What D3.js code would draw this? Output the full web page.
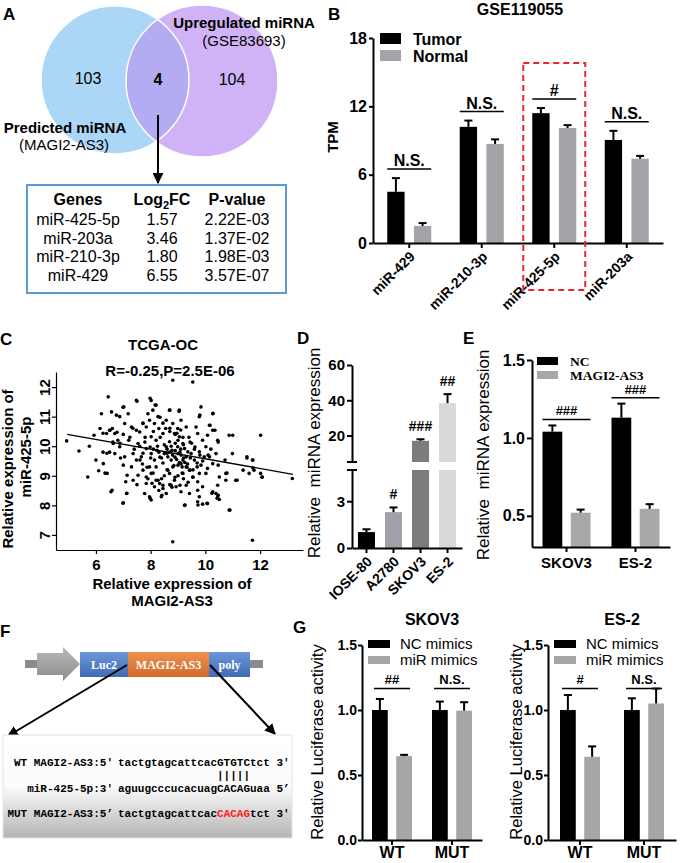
<!DOCTYPE html>
<html>
<head>
<meta charset="utf-8">
<script src="https://cdn.jsdelivr.net/npm/d3@7"></script>
<style>
  body { margin: 0; background: #fff; }
</style>
</head>
<body>
<div id="fig"></div>
<script>
// ---------- data ----------
// A: venn + table
const vennCounts = [103, 4, 104];
const vennSets = ["Predicted miRNA", "Upregulated miRNA"];
const vennSources = ["(MAGI2-AS3)", "(GSE83693)"];
const tableGenes = ["miR-425-5p", "miR-203a", "miR-210-3p", "miR-429"];
const tableLog2FC = ["1.57", "3.46", "1.80", "6.55"];
const tablePValue = ["2.22E-03", "1.37E-02", "1.98E-03", "3.57E-07"];

// B: GSE119055 TPM
const bMirnas = ["miR-429", "miR-210-3p", "miR-425-5p", "miR-203a"];
const bSeries = ["Tumor", "Normal"];
const bTumor = [4.5, 10.2, 11.4, 9.05];
const bTumorErr = [1.2, 0.55, 0.45, 0.8];
const bNormal = [1.5, 8.7, 10.1, 7.4];
const bNormalErr = [0.25, 0.4, 0.25, 0.25];
const bSig = ["N.S.", "N.S.", "#", "N.S."];
const bTicks = [0, 6, 12, 18];

// C: TCGA-OC scatter (MAGI2-AS3, miR-425-5p)
const cPoints = [
  [4.93,10.18],[5.38,9.84],[5.76,10.0],[5.70,8.96],[6.0,9.53],[6.1,9.17],[6.27,9.41],[6.41,9.08],[6.55,8.46],
  [6.45,11.67],[6.2,11.1],[6.15,10.6],[5.93,10.37],[6.39,10.43],[6.5,10.54],[6.69,10.43],[6.57,11.16],[6.75,11.05],
  [6.87,11.0],[7.02,11.33],[7.18,11.1],[7.05,10.77],[6.63,10.09],[6.5,9.8],[6.69,9.75],[6.87,9.98],[7.0,9.36],
  [7.05,9.64],[7.14,9.02],[7.09,8.8],[7.12,8.4],[7.0,8.09],[7.36,8.85],[7.48,11.55],[7.48,10.54],[7.3,10.65],
  [7.6,10.48],[7.54,10.09],[7.36,9.75],[7.66,9.64],[7.48,9.53],[7.72,9.19],[7.54,9.02],[7.84,8.74],[7.78,8.4],
  [7.9,11.1],[8.02,11.55],[8.2,11.39],[8.08,11.22],[7.72,10.77],[7.84,10.65],[7.96,10.88],[8.14,10.77],[8.27,11.0],
  [8.3,10.6],[8.45,10.43],[8.02,10.32],[8.2,10.2],[7.84,9.92],[8.02,9.75],[8.14,9.53],[7.96,9.3],[7.84,8.96],
  [8.02,9.08],[8.2,8.85],[8.14,8.63],[7.96,8.29],[8.02,8.18],[8.33,8.74],[8.45,8.57],[8.39,8.29],[8.57,8.4],
  [8.5,9.75],[8.57,9.98],[8.69,10.15],[8.63,9.64],[8.75,9.53],[8.81,9.3],[8.69,9.08],[8.87,8.85],[8.75,8.68],
  [8.93,8.63],[8.81,6.77],[8.81,12.23],[9.54,12.17],[8.69,11.22],[9.05,11.22],[8.57,10.88],[8.81,10.77],[8.99,10.6],
  [9.11,10.88],[9.3,10.65],[8.87,10.43],[9.05,10.32],[9.18,10.09],[8.99,9.98],[9.24,9.92],[9.36,9.81],[9.11,9.7],
  [9.3,9.64],[9.48,9.75],[9.6,9.53],[9.11,9.41],[9.3,9.3],[9.42,9.19],[9.18,9.08],[9.54,8.96],[9.3,8.68],
  [9.11,8.46],[9.42,8.4],[9.24,8.0],[9.66,10.65],[9.78,11.0],[9.72,10.43],[9.9,10.2],[10.02,9.98],[9.78,9.81],
  [9.96,9.64],[9.84,9.36],[10.08,9.25],[9.78,9.08],[10.02,9.08],[9.72,8.8],[9.9,8.63],[9.72,8.51],[9.78,8.29],
  [9.72,8.12],[9.9,8.04],[10.08,8.06],[9.84,11.33],[10.27,11.1],[10.15,10.71],[10.27,10.54],[10.08,10.37],[10.45,10.2],
  [10.39,9.75],[10.15,9.64],[10.27,9.41],[10.51,8.96],[10.45,8.68],[10.27,8.46],[10.39,8.4],[10.45,8.29],[10.51,8.2],
  [10.87,10.37],[10.99,9.75],[10.75,9.08],[10.75,8.85],[10.87,7.84],[11.11,8.85],[11.52,9.64],[11.72,9.53],[11.6,9.08],
  [11.78,9.19],[12.02,10.37],[12.02,9.08],[12.08,8.96],[11.72,6.82],[13.18,8.91],
  [8.6,9.9],[8.7,9.8],[8.8,9.7],[8.9,9.85],[9.0,9.75],[9.1,9.9],[9.2,9.6],[8.95,9.55],[9.05,9.45],[8.85,9.35],
  [9.15,9.3],[9.25,9.45],[8.75,10.0],[8.9,10.1],[9.0,10.2],[9.2,10.05],[8.5,10.05],[8.4,9.6],[8.3,9.8],[8.25,10.0],
  [8.35,10.3],[8.1,10.5],[8.55,10.6],[8.7,10.5],[8.9,10.4],[9.1,10.55],[9.4,10.3],[9.5,10.1],[9.6,9.9],[9.45,9.6],
  [9.35,9.4],[9.55,9.2],[8.6,9.2],[8.5,9.0],[8.4,8.9],[8.7,8.7],[9.0,9.0],[9.2,8.9],[9.7,9.3],[9.9,9.5],
  [10.1,9.7],[10.2,9.9],[7.8,10.3],[7.6,10.0],[7.4,9.9],[7.2,10.2],[7.0,10.4],[6.8,10.2],[6.6,10.6],[6.9,9.6],
  [7.3,9.3],[7.7,9.4],[8.0,9.6],[8.1,9.9],[8.2,9.3],[7.5,8.7],[7.9,8.9],[8.3,8.5],
  [6.99,11.32],[7.5,11.52],[7.98,11.62],[8.16,11.39],[8.7,11.22],[9.04,11.18],[9.8,11.05],[10.28,11.11],[10.17,10.71],
  [10.35,10.54],[10.47,10.14],[11.0,10.37],[11.52,9.6],[11.74,9.53],[11.38,9.19],[11.74,9.26],[12.07,8.95],[11.16,8.85],
  [10.79,9.09],[10.72,9.53],[10.47,9.36],[10.9,7.84],[6.26,10.44],[6.26,9.8],[6.4,9.76],[6.33,9.09],[6.59,8.51],
  [6.99,8.07],[7.13,8.41],[7.98,8.24],[8.05,8.75],[8.41,8.34],[9.26,8.01],[9.73,8.01],[10.06,8.07],[10.24,8.41],
  [10.43,8.24],[10.47,8.34],[8.6,9.76],[8.78,9.86],[8.89,9.63],[9.07,9.8],[9.18,9.53],[9.0,9.36],[9.33,9.29],
  [9.44,9.19],[9.15,9.09],[8.89,8.95],[8.63,9.19],[8.45,9.43],[8.34,9.63],[8.23,9.86],[7.98,9.97],[7.79,10.14],
  [7.72,9.76],[7.61,9.53],[7.87,9.29],[8.09,9.09],[8.27,8.85],[8.45,8.68],[8.78,8.61],[9.07,8.68],[9.37,8.78],
  [9.55,8.95],[9.7,9.43],[9.8,9.7],[9.62,9.97],[9.44,10.14],[9.18,10.3],[8.96,10.44],[8.7,10.61],[8.45,10.78],
  [8.34,10.98],[7.72,10.78],[7.35,10.61],[7.24,10.3],[6.88,10.1],[6.62,10.14],[6.77,10.47],[6.51,10.54]
];
const cFit = [[4.95, 10.4], [13.2, 9.05]];
const cXTicks = [6, 8, 10, 12];
const cYTicks = [7, 8, 9, 10, 11, 12];

// D: cell lines
const dCells = ["IOSE-80", "A2780", "SKOV3", "ES-2"];
const dValues = [1.02, 2.3, 17.0, 38.4];
const dErr = [0.18, 0.3, 0.9, 5.1];
const dSig = ["", "#", "###", "##"];
const dLowTicks = [0, 3];
const dHighTicks = [20, 40, 60];

// E: NC vs MAGI2-AS3
const eCells = ["SKOV3", "ES-2"];
const eSeries = ["NC", "MAGI2-AS3"];
const eNC = [1.04, 1.13];
const eNCErr = [0.04, 0.09];
const eMAGI = [0.52, 0.545];
const eMAGIErr = [0.02, 0.03];
const eSig = ["###", "###"];
const eTicks = [0.5, 1.0, 1.5];

// F: construct + sequences
const fConstruct = ["Luc2", "MAGI2-AS3", "poly"];
const fSeqPrefix = ["WT MAGI2-AS3:5'", "miR-425-5p:3'", "MUT MAGI2-AS3:5\u2019"];
const fSeqBody = ["tactgtagcattcacGTGTCtct 3'", "aguugcccucacuagCACAGuaa 5\u2019", "tactgtagcattcacCACAGtct 3'"];
const fSeedMatch = "               |||||";

// G: luciferase
const gGroups = ["WT", "MUT"];
const gSeries = ["NC mimics", "miR mimics"];
const gSkovNC = [1.0, 1.0];
const gSkovNCErr = [0.085, 0.065];
const gSkovMiR = [0.645, 0.995];
const gSkovMiRErr = [0.01, 0.065];
const gSkovSig = ["##", "N.S."];
const gEsNC = [1.0, 1.0];
const gEsNCErr = [0.115, 0.09];
const gEsMiR = [0.64, 1.05];
const gEsMiRErr = [0.08, 0.115];
const gEsSig = ["#", "N.S."];
const gTicks = [0, 0.5, 1.0, 1.5];

// ---------- setup ----------
const W = 685, H = 863;
const sans = "Arial, 'Liberation Sans', sans-serif";
const serif = "'Times New Roman', 'Liberation Serif', serif";
const mono = "'Courier New', 'Liberation Mono', monospace";

const svg = d3.select("#fig").append("svg")
  .attr("width", W).attr("height", H)
  .style("font-family", sans);
svg.append("rect").attr("width", W).attr("height", H).attr("fill", "#fff");
const defs = svg.append("defs");

defs.append("marker").attr("id", "arrow")
  .attr("viewBox", "0 0 10 10").attr("refX", 9).attr("refY", 5)
  .attr("markerUnits", "userSpaceOnUse")
  .attr("markerWidth", 11).attr("markerHeight", 11)
  .attr("orient", "auto")
  .append("path").attr("d", "M0,0L10,5L0,10z").attr("fill", "#000");

function text(g, x, y, str, size, weight, anchor) {
  return g.append("text").attr("x", x).attr("y", y)
    .attr("text-anchor", anchor || "middle")
    .style("font-size", size + "px")
    .style("font-weight", weight || "normal")
    .text(str);
}

function rotText(g, x, y, str, size, weight) {
  return g.append("text")
    .attr("transform", `translate(${x},${y}) rotate(-90)`)
    .attr("text-anchor", "middle")
    .style("font-size", size + "px")
    .style("font-weight", weight || "normal")
    .style("white-space", "pre")
    .text(str);
}

function styleAxis(sel, size, sw) {
  sel.select(".domain").attr("stroke", "#000").attr("stroke-width", sw || 2);
  sel.selectAll(".tick line").attr("stroke", "#000").attr("stroke-width", sw || 2);
  sel.selectAll(".tick text").attr("fill", "#000")
    .style("font-size", size + "px").style("font-weight", "bold").style("font-family", sans);
}

function errBars(g, rows, cx, y) {
  const eb = g.selectAll(null).data(rows).join("g")
    .attr("transform", d => `translate(${cx(d)},0)`);
  eb.append("line").attr("y1", d => y(d.v)).attr("y2", d => y(d.v + d.e))
    .attr("stroke", "#000").attr("stroke-width", 2);
  eb.append("line").attr("x1", -4).attr("x2", 4)
    .attr("y1", d => y(d.v + d.e)).attr("y2", d => y(d.v + d.e))
    .attr("stroke", "#000").attr("stroke-width", 2);
}

function groupedBars(g, cats, series, vals, errs, x, sub, y, colors) {
  const rows = cats.flatMap((c, i) => series.map((s, j) => ({ c, s, j, v: vals[j][i], e: errs[j][i] })));
  const left = d => x(d.c) + x.bandwidth() / 2 + sub(d.s);
  g.selectAll(null).data(rows).join("rect")
    .attr("x", left)
    .attr("y", d => y(d.v))
    .attr("width", sub.bandwidth())
    .attr("height", d => y.range()[0] - y(d.v))
    .attr("fill", d => colors[d.j]);
  errBars(g, rows, d => left(d) + sub.bandwidth() / 2, y);
  return rows;
}

function bracket(g, cx, half, yLine, label, size, gap) {
  g.append("line").attr("x1", cx - half).attr("x2", cx + half)
    .attr("y1", yLine).attr("y2", yLine).attr("stroke", "#000").attr("stroke-width", 1.5);
  text(g, cx, yLine - (gap || 3), label, size, "bold");
}

function legend(g, series, colors, x0, y0, dy, sw, sh, tx, size, family, weight) {
  series.forEach((s, i) => {
    g.append("rect").attr("x", x0).attr("y", y0 + i * dy).attr("width", sw).attr("height", sh).attr("fill", colors[i]);
    text(g, tx, y0 + i * dy + sh + 1, s, size, weight, "start").style("font-family", family);
  });
}

// panel letters
[["A", 3, 20], ["B", 328, 20], ["C", 0, 345], ["D", 297, 344], ["E", 463, 344], ["F", 0, 637], ["G", 293, 633]]
  .forEach(([l, x, y]) => text(svg, x, y, l, 17, "bold", "start"));

// ---------- A ----------
const gA = svg.append("g");
const vL = { x: 115, y: 80, r: 74 }, vR = { x: 202, y: 81, r: 76 };
defs.append("clipPath").attr("id", "clipL").append("circle").attr("cx", vL.x).attr("cy", vL.y).attr("r", vL.r);
gA.append("circle").attr("cx", vL.x).attr("cy", vL.y).attr("r", vL.r).attr("fill", "#abd6f6");
gA.append("circle").attr("cx", vR.x).attr("cy", vR.y).attr("r", vR.r).attr("fill", "#d0b3f6");
gA.append("circle").attr("cx", vR.x).attr("cy", vR.y).attr("r", vR.r).attr("fill", "#b3acf3").attr("clip-path", "url(#clipL)");
[vL, vR].forEach(c => gA.append("circle").attr("cx", c.x).attr("cy", c.y).attr("r", c.r)
  .attr("fill", "none").attr("stroke", "#fff").attr("stroke-width", 1.5));
text(gA, 88, 84, vennCounts[0], 16);
text(gA, 158, 85, vennCounts[1], 16, "bold");
text(gA, 232, 85, vennCounts[2], 16);
text(gA, 244, 28, vennSets[1], 15, "bold");
text(gA, 244, 46, vennSources[1], 15);
text(gA, 65, 133, vennSets[0], 15, "bold");
text(gA, 64, 150, vennSources[0], 15);
gA.append("line").attr("x1", 158).attr("y1", 115).attr("x2", 158).attr("y2", 183)
  .attr("stroke", "#000").attr("stroke-width", 2).attr("marker-end", "url(#arrow)");

gA.append("rect").attr("x", 27).attr("y", 185).attr("width", 259).attr("height", 108)
  .attr("fill", "#fff").attr("stroke", "#5b9bd5").attr("stroke-width", 2);
const colX = [78, 162, 237];
text(gA, colX[0], 205, "Genes", 16, "bold");
const lf = text(gA, colX[1], 205, "Log", 16, "bold");
lf.append("tspan").attr("dy", 4).style("font-size", "11px").text("2");
lf.append("tspan").attr("dy", -4).text("FC");
text(gA, colX[2], 205, "P-value", 16, "bold");
tableGenes.forEach((gname, i) => {
  const y = 225 + i * 18.7;
  text(gA, colX[0], y, gname, 16);
  text(gA, colX[1], y, tableLog2FC[i], 16);
  text(gA, colX[2], y, tablePValue[i], 16);
});

// ---------- B ----------
const gB = svg.append("g");
const yB = d3.scaleLinear().domain([0, 18]).range([243, 38]);
const xB = d3.scaleBand().domain(bMirnas).range([373, 663]);
const sB = d3.scaleBand().domain(bSeries).range([-22, 22]).paddingInner(0.35);
const bColors = ["#000", "#a3a3a8"];
groupedBars(gB, bMirnas, bSeries, [bTumor, bNormal], [bTumorErr, bNormalErr], xB, sB, yB, bColors);

const axBy = gB.append("g").attr("transform", "translate(373,0)")
  .call(d3.axisLeft(yB).tickValues(bTicks).tickFormat(d3.format("d")).tickSize(4).tickPadding(2).tickSizeOuter(0));
styleAxis(axBy, 16);
const axBx = gB.append("g").attr("transform", "translate(0,243)")
  .call(d3.axisBottom(xB).tickSize(5).tickSizeOuter(0));
styleAxis(axBx, 14);
axBx.selectAll(".tick text").attr("x", 0).attr("y", 0).attr("dy", "0.35em")
  .attr("text-anchor", "end").attr("transform", "translate(3,11) rotate(-45)");

bMirnas.forEach((m, i) => {
  const cx = xB(m) + xB.bandwidth() / 2;
  const top = Math.min(yB(bTumor[i] + bTumorErr[i]), yB(bNormal[i] + bNormalErr[i]));
  bracket(gB, cx, 22, top - 9, bSig[i], 16, 3);
});
legend(gB, bSeries, bColors, 380, 33, 17, 21, 11, 413, 16, sans, "bold");
text(gB, 520, 15, "GSE119055", 16, "bold");
rotText(gB, 338, 137, "TPM", 15, "bold");
const hl = xB("miR-425-5p") + xB.bandwidth() / 2;
gB.append("rect").attr("x", hl - 31).attr("y", 63).attr("width", 62).attr("height", 227)
  .attr("fill", "none").attr("stroke", "#e8262b").attr("stroke-width", 2).attr("stroke-dasharray", "6,4");

// ---------- C ----------
const gC = svg.append("g");
const xC = d3.scaleLinear().domain([4.54, 13.57]).range([56, 303]);
const yC = d3.scaleLinear().domain([6.49, 12.51]).range([550, 372]);
gC.selectAll(null).data(cPoints).join("circle")
  .attr("cx", d => xC(d[0])).attr("cy", d => yC(d[1])).attr("r", 1.8).attr("fill", "#000");
gC.append("path").datum(cFit)
  .attr("d", d3.line().x(d => xC(d[0])).y(d => yC(d[1])))
  .attr("stroke", "#000").attr("stroke-width", 1.3).attr("fill", "none");
const axCx = gC.append("g").attr("transform", "translate(0,550)")
  .call(d3.axisBottom(xC).tickValues(cXTicks).tickFormat(d3.format("d")).tickSize(4).tickSizeOuter(0));
styleAxis(axCx, 15, 1.2);
axCx.selectAll(".tick text").attr("y", 9).attr("dy", "0.71em");
const axCy = gC.append("g").attr("transform", "translate(56,0)")
  .call(d3.axisLeft(yC).tickValues(cYTicks).tickFormat(d3.format("d")).tickSize(4).tickSizeOuter(0));
styleAxis(axCy, 15, 1.2);
axCy.selectAll(".tick text").attr("x", 0).attr("dy", 0).attr("text-anchor", "middle")
  .attr("transform", "translate(-6,0) rotate(-90)");
text(gC, 163, 350, "TCGA-OC", 15, "bold");
text(gC, 170, 376, "R=-0.25,P=2.5E-06", 15, "bold");
rotText(gC, 13, 469, "Relative expression of", 15, "bold");
rotText(gC, 31, 457, "miR-425-5p", 15, "bold");
text(gC, 172, 589, "Relative expression of", 15, "bold");
text(gC, 172, 606, "MAGI2-AS3", 15, "bold");

// ---------- D ----------
const gD = svg.append("g");
const yDlow = d3.scaleLinear().domain([0, 5]).range([548, 470]);
const yDup = d3.scaleLinear().domain([5, 60]).range([462, 365]);
const xD = d3.scaleBand().domain(dCells).range([352, 462]).paddingInner(0.37).paddingOuter(0.22);
const dColors = ["#000", "#a0a0a8", "#7c7c7c", "#d9d9d9"];
dCells.forEach((c, i) => {
  const v = dValues[i], e = dErr[i], bx = xD(c), bw = xD.bandwidth();
  const yS = v <= 5 ? yDlow : yDup;
  if (v <= 5) {
    gD.append("rect").attr("x", bx).attr("y", yDlow(v)).attr("width", bw).attr("height", 548 - yDlow(v)).attr("fill", dColors[i]);
  } else {
    gD.append("rect").attr("x", bx).attr("y", yDlow(5)).attr("width", bw).attr("height", 548 - yDlow(5)).attr("fill", dColors[i]);
    gD.append("rect").attr("x", bx).attr("y", yDup(v)).attr("width", bw).attr("height", yDup(5) - yDup(v)).attr("fill", dColors[i]);
  }
  errBars(gD, [{ v, e }], () => bx + bw / 2, yS);
  if (dSig[i]) text(gD, bx + bw / 2, yS(v + e) - 8, dSig[i], 14, "bold");
});
const axDlow = gD.append("g").attr("transform", "translate(352,0)")
  .call(d3.axisLeft(yDlow).tickValues(dLowTicks).tickFormat(d3.format("d")).tickSize(5).tickPadding(2).tickSizeOuter(0));
styleAxis(axDlow, 15);
const axDup = gD.append("g").attr("transform", "translate(352,0)")
  .call(d3.axisLeft(yDup).tickValues(dHighTicks).tickFormat(d3.format("d")).tickSize(5).tickPadding(2).tickSizeOuter(0));
styleAxis(axDup, 15);
[yDup(5), yDlow(5)].forEach(y => gD.append("line").attr("x1", 347).attr("x2", 357)
  .attr("y1", y).attr("y2", y).attr("stroke", "#000").attr("stroke-width", 2));
const axDx = gD.append("g").attr("transform", "translate(0,548)")
  .call(d3.axisBottom(xD).tickSize(5).tickSizeOuter(0));
styleAxis(axDx, 14);
axDx.selectAll(".tick text").attr("x", 0).attr("y", 0).attr("dy", "0.35em")
  .attr("text-anchor", "end").attr("transform", "translate(3,11) rotate(-45)");
rotText(gD, 320, 453, "Relative  miRNA expression", 17);

// ---------- E ----------
const gE = svg.append("g");
const yE = d3.scaleLinear().domain([0.3, 1.5]).range([547, 360]);
const xE = d3.scaleBand().domain(eCells).range([532, 670]);
const sE = d3.scaleBand().domain(eSeries).range([-24, 24]).paddingInner(0.3);
const eColors = ["#000", "#a8a8a8"];
groupedBars(gE, eCells, eSeries, [eNC, eMAGI], [eNCErr, eMAGIErr], xE, sE, yE, eColors);
const axEy = gE.append("g").attr("transform", "translate(532,0)")
  .call(d3.axisLeft(yE).tickValues(eTicks).tickFormat(d3.format(".1f")).tickSize(5).tickPadding(2).tickSizeOuter(0));
styleAxis(axEy, 16);
const axEx = gE.append("g").attr("transform", "translate(0,547)")
  .call(d3.axisBottom(xE).tickSize(5).tickSizeOuter(0));
styleAxis(axEx, 15);
axEx.selectAll(".tick text").attr("y", 21).attr("dy", 0);
eCells.forEach((c, i) => {
  const cx = xE(c) + xE.bandwidth() / 2;
  const top = Math.min(yE(eNC[i] + eNCErr[i]), yE(eMAGI[i] + eMAGIErr[i]));
  bracket(gE, cx, 24, top - 6, eSig[i], 13, 4);
});
legend(gE, eSeries, eColors, 537, 357, 14, 21, 8, 570, 13.5, serif, "bold");
rotText(gE, 489, 455, "Relative  miRNA expression", 17);

// ---------- F ----------
const gF = svg.append("g");
const gradBlue = defs.append("linearGradient").attr("id", "gBlue").attr("x1", 0).attr("x2", 0).attr("y1", 0).attr("y2", 1);
gradBlue.append("stop").attr("offset", "0%").attr("stop-color", "#6c96d8");
gradBlue.append("stop").attr("offset", "100%").attr("stop-color", "#3f6cb6");
const gradOr = defs.append("linearGradient").attr("id", "gOr").attr("x1", 0).attr("x2", 0).attr("y1", 0).attr("y2", 1);
gradOr.append("stop").attr("offset", "0%").attr("stop-color", "#f0914f");
gradOr.append("stop").attr("offset", "100%").attr("stop-color", "#d26a2a");
const gradGray = defs.append("linearGradient").attr("id", "gGray").attr("x1", 0).attr("x2", 0).attr("y1", 0).attr("y2", 1);
gradGray.append("stop").attr("offset", "0%").attr("stop-color", "#b8b8b8");
gradGray.append("stop").attr("offset", "100%").attr("stop-color", "#8e8e8e");
const gradSeq = defs.append("linearGradient").attr("id", "gSeq").attr("x1", 0).attr("x2", 0).attr("y1", 0).attr("y2", 1);
gradSeq.append("stop").attr("offset", "0%").attr("stop-color", "#fff");
gradSeq.append("stop").attr("offset", "50%").attr("stop-color", "#fbfbfb");
gradSeq.append("stop").attr("offset", "100%").attr("stop-color", "#b4b4b4");

gF.append("rect").attr("x", 25).attr("y", 660).attr("width", 14).attr("height", 8).attr("fill", "#8c8c8c");
gF.append("rect").attr("x", 248).attr("y", 660).attr("width", 15).attr("height", 8).attr("fill", "#8c8c8c");
gF.append("path").attr("d", "M37,653H63V647L80,664L63,681V675H37Z").attr("fill", "url(#gGray)");
const boxes = [[80, 128, "url(#gBlue)"], [128, 209, "url(#gOr)"], [209, 250, "url(#gBlue)"]];
boxes.forEach(([x0, x1, f], i) => {
  gF.append("rect").attr("x", x0).attr("y", 652).attr("width", x1 - x0).attr("height", 25).attr("fill", f);
  text(gF, (x0 + x1) / 2, 669, fConstruct[i], 12, "bold").attr("fill", "#fff").style("font-family", serif);
});
gF.append("line").attr("x1", 127).attr("y1", 665).attr("x2", 8).attr("y2", 736)
  .attr("stroke", "#000").attr("stroke-width", 2).attr("marker-end", "url(#arrow)");
gF.append("line").attr("x1", 210).attr("y1", 665).attr("x2", 275).attr("y2", 734)
  .attr("stroke", "#000").attr("stroke-width", 2).attr("marker-end", "url(#arrow)");
gF.append("rect").attr("x", 3).attr("y", 735).attr("width", 289).attr("height", 103)
  .attr("fill", "url(#gSeq)").attr("stroke", "#e4e4e4").attr("stroke-width", 1);
const seqY = [766, 792, 817];
fSeqBody.forEach((s, i) => {
  text(gF, 113, seqY[i], fSeqPrefix[i], 11, "bold", "end").style("font-family", mono).style("white-space", "pre");
  const t = text(gF, 118, seqY[i], "", 11, "bold", "start").style("font-family", mono).style("white-space", "pre");
  if (i === 2) {
    t.append("tspan").text(s.slice(0, 15));
    t.append("tspan").attr("fill", "#ff1a1a").text(s.slice(15, 20));
    t.append("tspan").text(s.slice(20));
  } else {
    t.text(s);
  }
});
text(gF, 118, 779, fSeedMatch, 11, "bold", "start").style("font-family", mono).style("white-space", "pre");

// ---------- G ----------
function luciferase(x0, x1, title, nc, ncErr, mir, mirErr, sig, labelX) {
  const g = svg.append("g");
  const y = d3.scaleLinear().domain([0, 1.5]).range([840, 645]);
  const x = d3.scaleBand().domain(gGroups).range([x0, x1]);
  const s = d3.scaleBand().domain(gSeries).range([-20, 20]).paddingInner(0.35);
  const colors = ["#000", "#a6a6a6"];
  groupedBars(g, gGroups, gSeries, [nc, mir], [ncErr, mirErr], x, s, y, colors);
  const ay = g.append("g").attr("transform", `translate(${x0},0)`)
    .call(d3.axisLeft(y).tickValues(gTicks).tickFormat(d3.format(".1f")).tickSize(4).tickPadding(1).tickSizeOuter(0));
  styleAxis(ay, 14);
  const ax = g.append("g").attr("transform", "translate(0,840)")
    .call(d3.axisBottom(x).tickSize(5).tickSizeOuter(0));
  styleAxis(ax, 16);
  ax.selectAll(".tick text").attr("y", 18).attr("dy", 0);
  gGroups.forEach((k, i) => bracket(g, x(k) + x.bandwidth() / 2, 18, y(1.165), sig[i], 13, 5));
  legend(g, gSeries, colors, x0 + 6, 640, 16, 22, 8, x0 + 38, 15, sans, "normal");
  text(g, (x0 + x1) / 2 + 10, 625, title, 16, "bold");
  rotText(g, labelX, 742, "Relative Luciferase activity", 16.5);
}
luciferase(362, 482, "SKOV3", gSkovNC, gSkovNCErr, gSkovMiR, gSkovMiRErr, gSkovSig, 323);
luciferase(548, 676, "ES-2", gEsNC, gEsNCErr, gEsMiR, gEsMiRErr, gEsSig, 522);
</script>
</body>
</html>
